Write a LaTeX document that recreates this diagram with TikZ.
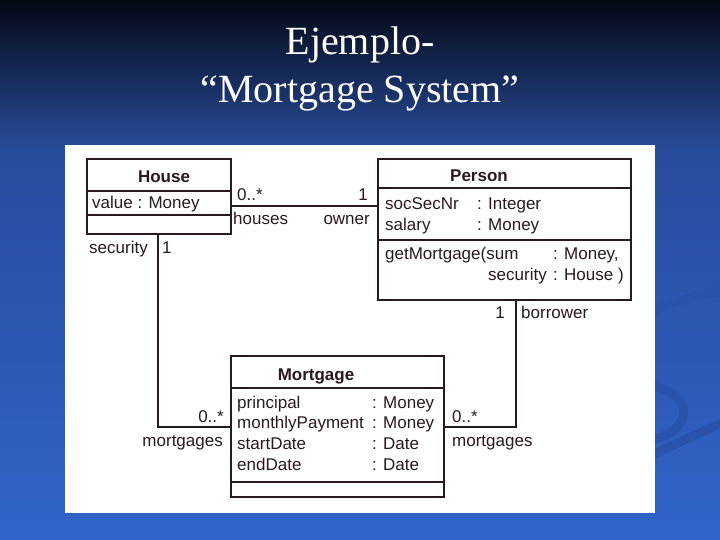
\documentclass[tikz,border=0pt]{standalone}
\usepackage{fontspec}
\setmainfont{Liberation Serif}
\newfontfamily\umlfont{Liberation Sans}
\definecolor{ink}{RGB}{42,26,32}
\definecolor{bgtop}{RGB}{4,8,20}
\definecolor{bgmid}{RGB}{40,76,156}
\definecolor{bgbot}{RGB}{50,100,202}
\definecolor{swirl}{RGB}{40,82,172}
\begin{document}
\begin{tikzpicture}[x=1pt,y=-1pt,
  classbox/.style={draw=ink, line width=2.2pt, anchor=north west, inner sep=0pt, rectangle},
  uml/.style={text=ink, font=\umlfont\fontsize{17}{20}\selectfont, inner sep=0pt},
  umlb/.style={text=ink, font=\umlfont\bfseries\fontsize{17}{20}\selectfont, inner sep=0pt},
  sep/.style={draw=ink, line width=2.2pt},
  conn/.style={draw=ink, line width=2.2pt},
  titletext/.style={font=\fontsize{40}{48}\selectfont, inner sep=0pt, anchor=base},
  swirlband/.style={draw=swirl, line width=9pt, line cap=round}
]
\useasboundingbox (0,0) rectangle (720,540);
% background
\shade[top color=bgtop, bottom color=bgmid] (0,0) rectangle (720,150);
\shade[top color=bgmid, bottom color=bgbot] (0,149.5) rectangle (720,540);
% faint swirls on the right
\draw[swirlband] (650,312) .. controls (680,300) and (700,294) .. (730,290);
\draw[swirlband] (650,386) .. controls (695,392) and (695,432) .. (650,440);
\draw[swirlband] (650,456) .. controls (680,442) and (700,432) .. (730,420);
% title
\node[titletext, text=white] (t1) at (360,55) {Ejemplo-};
\node[titletext, text=white] (t2) at (360,103) {“Mortgage System”};
% panel
\fill[white] (65,145) rectangle (655,513);

% House
\node[classbox, minimum width=144pt, minimum height=75pt] (house) at (86,158) {};
\draw[sep] (house.west |- 0,191) -- (house.east |- 0,191);
\draw[sep] (house.west |- 0,215) -- (house.east |- 0,215);
\node[umlb, anchor=base] (houseT) at (164,183) {House};
\node[uml, anchor=base west] (houseA) at (92,208) {value : Money};

% Person
\node[classbox, minimum width=253pt, minimum height=141pt] (person) at (377,158) {};
\draw[sep] (person.west |- 0,188) -- (person.east |- 0,188);
\draw[sep] (person.west |- 0,240) -- (person.east |- 0,240);
\node[umlb, anchor=base] (personT) at (479,182) {Person};
\node[uml, anchor=base west] (pA1) at (385,210) {socSecNr};
\node[uml, anchor=base west] (pA1t) at (477,210) {: Integer};
\node[uml, anchor=base west] (pA2) at (385,230) {salary};
\node[uml, anchor=base west] (pA2t) at (477,230) {: Money};
\node[uml, anchor=base west] (pO1) at (385,259) {getMortgage(sum};
\node[uml, anchor=base west] (pO1t) at (553,259) {: Money,};
\node[uml, anchor=base west] (pO2) at (488,280) {security};
\node[uml, anchor=base west] (pO2t) at (553,280) {: House )};

% Mortgage
\node[classbox, minimum width=213pt, minimum height=141pt] (mort) at (230,355) {};
\draw[sep] (mort.west |- 0,388) -- (mort.east |- 0,388);
\draw[sep] (mort.west |- 0,482) -- (mort.east |- 0,482);
\node[umlb, anchor=base] (mortT) at (316,380) {Mortgage};
\node[uml, anchor=base west] (mA1) at (237,408) {principal};
\node[uml, anchor=base west] (mA1t) at (372,408) {: Money};
\node[uml, anchor=base west] (mA2) at (237,428.5) {monthlyPayment};
\node[uml, anchor=base west] (mA2t) at (372,428.5) {: Money};
\node[uml, anchor=base west] (mA3) at (237,449) {startDate};
\node[uml, anchor=base west] (mA3t) at (372,449) {: Date};
\node[uml, anchor=base west] (mA4) at (237,470) {endDate};
\node[uml, anchor=base west] (mA4t) at (372,470) {: Date};

% connectors
\coordinate (hp) at ([yshift=-9.5pt]house.east);
\draw[conn] (hp) -- (hp -| person.west);
\draw[conn] ([xshift=-1.5pt]house.south) |- (mort.west);
\draw[conn] ([xshift=11pt]person.south) |- (mort.east);

% association labels
\node[uml, anchor=base west] (l1) at (237,201) {0..*};
\node[uml, anchor=base east] (l2) at (368,201) {1};
\node[uml, anchor=base west] (l3) at (233,225) {houses};
\node[uml, anchor=base east] (l4) at (370,225) {owner};
\node[uml, anchor=base east] (l5) at (148,253) {security};
\node[uml, anchor=base west] (l6) at (162,253) {1};
\node[uml, anchor=base east] (l7) at (224,422) {0..*};
\node[uml, anchor=base east] (l8) at (223,446) {mortgages};
\node[uml, anchor=base east] (l9) at (505,318) {1};
\node[uml, anchor=base west] (l10) at (521,318) {borrower};
\node[uml, anchor=base west] (l11) at (452,422) {0..*};
\node[uml, anchor=base west] (l12) at (452,446) {mortgages};
\end{tikzpicture}
\end{document}
